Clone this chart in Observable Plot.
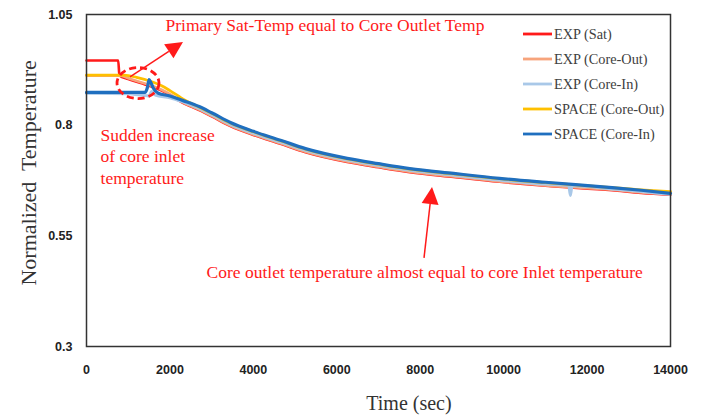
<!DOCTYPE html>
<html>
<head>
<meta charset="utf-8">
<script src="https://cdn.jsdelivr.net/npm/d3@7"></script>
<script src="https://cdn.jsdelivr.net/npm/@observablehq/plot@0.6"></script>
<style>
  html, body { margin: 0; padding: 0; background: #fff; }
  #chart { width: 704px; height: 417px; }
</style>
</head>
<body>
<div id="chart"></div>
<script>
// Axis ticks
const xTicks = [0, 2000, 4000, 6000, 8000, 10000, 12000, 14000];
const yTicks = [0.3, 0.55, 0.8, 1.05];

// Series names and colours (legend order = drawing order)
const seriesNames = ["EXP (Sat)", "EXP (Core-Out)", "EXP (Core-In)", "SPACE (Core-Out)", "SPACE (Core-In)"];
const seriesColors = ["#ff1a1a", "#f7a47c", "#a9c8e8", "#ffc000", "#1f6fbf"];
const seriesWidths = [2.6, 2.6, 3, 2.8, 3.2];

// EXP (Sat)
const expSatTime = [0, 760, 790, 1000, 1300, 1600, 1800, 2000, 2300, 2700, 3000, 3450, 4000, 4650, 5250, 6250, 7000, 7750, 8800, 9900, 11000, 12600, 13300, 14000];
const expSatValue = [0.946, 0.946, 0.912, 0.904, 0.895, 0.886, 0.878, 0.868, 0.851, 0.834, 0.820, 0.798, 0.778, 0.758, 0.739, 0.717, 0.705, 0.694, 0.683, 0.672, 0.663, 0.653, 0.647, 0.643];

// EXP (Core-Out)
const expOutTime = [0, 800, 1000, 1300, 1600, 1800, 2000, 2300, 2700, 3000, 3450, 4000, 4650, 5250, 6250, 7000, 7750, 8800, 9900, 11000, 12600, 13300, 14000];
const expOutValue = [0.912, 0.912, 0.906, 0.897, 0.888, 0.880, 0.870, 0.852, 0.835, 0.821, 0.799, 0.779, 0.759, 0.740, 0.718, 0.706, 0.695, 0.684, 0.673, 0.664, 0.654, 0.648, 0.644];

// EXP (Core-In)
const expInTime = [0, 1000, 1500, 1560, 1650, 2000, 2300, 2700, 3000, 3450, 4000, 4650, 5250, 6250, 7000, 7750, 8800, 9900, 11000, 11560, 11600, 11640, 12600, 13300, 14000];
const expInValue = [0.872, 0.871, 0.866, 0.876, 0.868, 0.862, 0.853, 0.838, 0.824, 0.802, 0.782, 0.762, 0.743, 0.721, 0.709, 0.698, 0.687, 0.676, 0.667, 0.664, 0.641, 0.663, 0.656, 0.650, 0.644];

// SPACE (Core-Out)
const spaceOutTime = [0, 900, 1200, 1600, 1800, 2000, 2200, 2350, 2700, 3000, 3450, 4000, 4650, 5250, 6250, 7000, 7750, 8800, 9900, 11000, 12600, 13300, 14000];
const spaceOutValue = [0.913, 0.913, 0.908, 0.897, 0.889, 0.878, 0.866, 0.857, 0.841, 0.827, 0.805, 0.785, 0.765, 0.746, 0.724, 0.712, 0.701, 0.690, 0.679, 0.670, 0.659, 0.654, 0.650];

// SPACE (Core-In)
const spaceInTime = [0, 1400, 1460, 1500, 1540, 1600, 1720, 2000, 2300, 2700, 3000, 3450, 4000, 4650, 5250, 6250, 7000, 7750, 8800, 9900, 11000, 12600, 13300, 14000];
const spaceInValue = [0.874, 0.874, 0.885, 0.903, 0.897, 0.884, 0.872, 0.866, 0.856, 0.842, 0.828, 0.806, 0.786, 0.766, 0.747, 0.725, 0.713, 0.702, 0.691, 0.680, 0.671, 0.659, 0.653, 0.646];

const seriesTimes = [expSatTime, expOutTime, expInTime, spaceOutTime, spaceInTime];
const seriesValues = [expSatValue, expOutValue, expInValue, spaceOutValue, spaceInValue];

const serif = "'Liberation Serif', 'DejaVu Serif', serif";
const tickFont = "'Liberation Sans', Arial, sans-serif";
const red = "#ff1a1a";

// one line mark per series so each keeps its own width
const lineMarks = seriesNames.map((name, i) =>
  Plot.line(seriesTimes[i].map((t, j) => ({time: t, value: seriesValues[i][j]})), {
    x: "time", y: "value", stroke: seriesColors[i], strokeWidth: seriesWidths[i],
    curve: "monotone-x", strokeLinejoin: "round"
  })
);

const plot = Plot.plot({
  width: 704,
  height: 417,
  marginLeft: 86,
  marginRight: 34,
  marginTop: 14,
  marginBottom: 71,
  style: {background: "#fff", overflow: "visible"},
  x: {domain: [0, 14000], label: null},
  y: {domain: [0.3, 1.05], label: null},
  marks: [
    Plot.axisX({ticks: xTicks, tickSize: 0, tickPadding: 19, tickFormat: d => String(d),
      fontWeight: "bold", fontSize: 12.5, fontFamily: tickFont, fill: "#222", label: null}),
    Plot.axisY({ticks: yTicks, tickSize: 0, tickPadding: 14, tickFormat: d => String(d),
      fontWeight: "bold", fontSize: 12.5, fontFamily: tickFont, fill: "#222", label: null}),
    ...lineMarks,
    Plot.frame({stroke: "#333", strokeWidth: 1.5}),
    // annotations
    Plot.text(["Primary Sat-Temp equal to Core Outlet Temp"], {x: 1894, y: 1.025, text: d => d,
      textAnchor: "start", fill: red, fontSize: 17.5, fontFamily: serif}),
    Plot.text(["Sudden increase\nof core inlet\ntemperature"], {x: 336, y: 0.7315, text: d => d,
      textAnchor: "start", lineHeight: 1.25, fill: red, fontSize: 17.5, fontFamily: serif}),
    Plot.text(["Core outlet temperature almost equal to core Inlet temperature"], {x: 2877, y: 0.467, text: d => d,
      textAnchor: "start", fill: red, fontSize: 17.5, fontFamily: serif})
  ]
});

document.getElementById("chart").appendChild(plot);

// Overlay arrows, highlight ellipse, axis titles and legend, placed through the plot's scales
const sx = plot.scale("x"), sy = plot.scale("y");
const X = d3.scaleLinear(sx.domain, sx.range);
const Y = d3.scaleLinear(sy.domain, sy.range);
const svg = d3.select(plot);
const g = svg.append("g");

function arrow(t0, v0, t1, v1) {
  const x0 = X(t0), y0 = Y(v0), x1 = X(t1), y1 = Y(v1);
  const dx = x1 - x0, dy = y1 - y0, L = Math.hypot(dx, dy);
  const ux = dx / L, uy = dy / L, head = 17, half = 8.5;
  const bx = x1 - ux * head, by = y1 - uy * head;
  g.append("line").attr("x1", x0).attr("y1", y0).attr("x2", bx).attr("y2", by)
    .attr("stroke", red).attr("stroke-width", 1.5);
  g.append("polygon")
    .attr("points", [[x1, y1], [bx - uy * half, by + ux * half], [bx + uy * half, by - ux * half]].map(p => p.join(",")).join(" "))
    .attr("fill", red);
}
arrow(1055, 0.908, 2325, 0.987);
arrow(8103, 0.499, 8295, 0.659);

g.append("ellipse").attr("cx", X(1247)).attr("cy", Y(0.894)).attr("rx", 21).attr("ry", 15.5)
  .attr("fill", "none").attr("stroke", red).attr("stroke-width", 2.8).attr("stroke-dasharray", "7,4");

// axis titles
g.append("text").attr("x", X(7743)).attr("y", 403).attr("dy", "0.35em")
  .attr("text-anchor", "middle").attr("font-family", serif).attr("font-size", 20).attr("fill", "#333")
  .text("Time (sec)");
g.append("text").attr("transform", `translate(28,${Y(0.691)}) rotate(-90)`).attr("dy", "0.35em")
  .attr("text-anchor", "middle").attr("font-family", serif).attr("font-size", 22).attr("fill", "#333")
  .text("Normalized  Temperature");

const legend = svg.append("g").attr("transform", "translate(523,34)");
seriesNames.forEach((name, i) => {
  const row = legend.append("g").attr("transform", `translate(0,${i * 25})`);
  row.append("line").attr("x1", 0).attr("x2", 29).attr("y1", 0).attr("y2", 0)
    .attr("stroke", seriesColors[i]).attr("stroke-width", 2.8);
  row.append("text").attr("x", 31).attr("y", 0).attr("dy", "0.35em").attr("text-anchor", "start")
    .attr("font-family", serif).attr("font-size", 14.3).attr("fill", "#404040").text(name);
});
</script>
</body>
</html>
